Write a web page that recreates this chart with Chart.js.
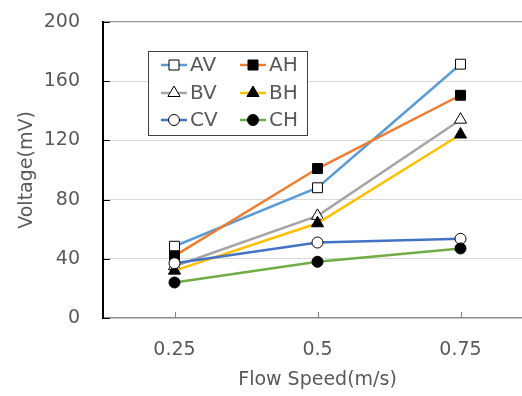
<!DOCTYPE html>
<html>
<head>
<meta charset="utf-8">
<script src="https://cdn.jsdelivr.net/npm/chart.js@4/dist/chart.umd.min.js"></script>
<style>
  html, body { margin: 0; padding: 0; overflow: hidden; background: #fff; }
  #wrap { width: 540px; height: 396px; position: relative; }
</style>
</head>
<body>
<div id="wrap"><canvas id="c" width="540" height="396"></canvas></div>
<script>
// ---- data ----
const categories = ['0.25', '0.5', '0.75'];
const seriesNames = ['AV', 'AH', 'BV', 'BH', 'CV', 'CH'];
const AV = [48.5, 88, 171.5];
const AH = [42, 101, 150.5];
const BV = [35, 69, 134];
const BH = [32, 64, 124];
const CV = [37, 51, 53.5];
const CH = [24, 38, 47];
const yTicks = [0, 40, 80, 120, 160, 200];

const values = [AV, AH, BV, BH, CV, CH];
const lineColors = ['#5B9BD5', '#ED7D31', '#A5A5A5', '#FFC000', '#4472C4', '#70AD47'];
const markerStyles = ['rect', 'rect', 'triangle', 'triangle', 'circle', 'circle'];
const markerFilled = [false, true, false, true, false, true];
const markerRadius = { rect: 7, triangle: 7, circle: 5.5 };

const FONT = 'DejaVu Sans';
const TXT = '#595959';

const datasets = seriesNames.map((name, i) => ({
  label: name,
  data: values[i],
  borderColor: lineColors[i],
  borderWidth: 2.5,
  pointStyle: markerStyles[i],
  pointRadius: markerRadius[markerStyles[i]],
  pointBorderWidth: 1,
  pointBorderColor: '#000',
  pointBackgroundColor: markerFilled[i] ? '#000' : '#fff',
  tension: 0,
  order: seriesNames.length - i
}));

function drawMarker(ctx, style, filled, x, y) {
  ctx.save();
  ctx.lineWidth = 1;
  ctx.strokeStyle = '#000';
  ctx.fillStyle = filled ? '#000' : '#fff';
  ctx.beginPath();
  if (style === 'rect') {
    const s = 5;
    ctx.rect(x - s, y - s, 2 * s, 2 * s);
  } else if (style === 'triangle') {
    const r = 7;
    ctx.moveTo(x, y - r);
    ctx.lineTo(x + r * Math.sin(Math.PI * 2 / 3), y - r * Math.cos(Math.PI * 2 / 3));
    ctx.lineTo(x - r * Math.sin(Math.PI * 2 / 3), y - r * Math.cos(Math.PI * 2 / 3));
    ctx.closePath();
  } else {
    ctx.arc(x, y, 5.5, 0, Math.PI * 2);
  }
  ctx.fill();
  ctx.stroke();
  ctx.restore();
}

const extras = {
  id: 'extras',
  afterDatasetsDraw(chart) {
    const ctx = chart.ctx;
    const y = chart.scales.y, x = chart.scales.x;
    const area = chart.chartArea;
    ctx.save();
    // y tick marks (inside)
    ctx.strokeStyle = '#000';
    ctx.lineWidth = 1;
    yTicks.forEach(v => {
      const py = Math.round(y.getPixelForValue(v)) + 0.5;
      ctx.beginPath();
      ctx.moveTo(area.left, py);
      ctx.lineTo(area.left + 7, py);
      ctx.stroke();
    });
    // x tick marks (inside)
    ctx.strokeStyle = '#7f7f7f';
    categories.forEach((c, i) => {
      const px = Math.round(x.getPixelForValue(i)) + 0.5;
      ctx.beginPath();
      ctx.moveTo(px, area.bottom);
      ctx.lineTo(px, area.bottom - 6);
      ctx.stroke();
    });
    // legend box
    const bx = 148.5, by = 51.5, bw = 159, bh = 84;
    ctx.fillStyle = '#fff';
    ctx.fillRect(bx, by, bw, bh);
    ctx.strokeStyle = '#404040';
    ctx.lineWidth = 1;
    ctx.strokeRect(bx, by, bw, bh);
    const colX = [161, 240];
    const rowY = [65, 93, 120];
    ctx.font = '20px "' + FONT + '"';
    ctx.textBaseline = 'middle';
    ctx.textAlign = 'left';
    chart.data.datasets.forEach((ds, i) => {
      const lx = colX[i % 2], ly = rowY[Math.floor(i / 2)];
      ctx.strokeStyle = ds.borderColor;
      ctx.lineWidth = 2.5;
      ctx.beginPath();
      ctx.moveTo(lx, ly);
      ctx.lineTo(lx + 26, ly);
      ctx.stroke();
      drawMarker(ctx, markerStyles[i], markerFilled[i], lx + 13, ly);
      ctx.fillStyle = TXT;
      ctx.fillText(ds.label, lx + 29, ly + 1);
    });
    ctx.restore();
  }
};

new Chart(document.getElementById('c'), {
  type: 'line',
  data: { labels: categories, datasets },
  options: {
    responsive: false,
    animation: false,
    layout: { padding: { top: 22, right: 8, left: 0, bottom: 0 } },
    plugins: { legend: { display: false }, tooltip: { enabled: false } },
    scales: {
      x: {
        offset: true,
        grid: { display: false, drawTicks: false },
        border: { display: true, color: '#8c8c8c', width: 1.3 },
        ticks: { color: TXT, font: { family: FONT, size: 19 }, padding: 21 },
        title: { display: true, text: 'Flow Speed(m/s)', color: TXT,
                 font: { family: FONT, size: 19 }, padding: { top: 0, bottom: 5 } },
        afterFit(s) { s.height = 78; s.paddingLeft = 0; s.paddingRight = 0; }
      },
      y: {
        min: 0, max: 200,
        afterBuildTicks(s) { s.ticks = yTicks.map(v => ({ value: v })); },
        grid: {
          drawTicks: false,
          color: ctx => (ctx.tick && ctx.tick.value === 200) ? '#969696' : '#d9d9d9',
          lineWidth: ctx => (ctx.tick && ctx.tick.value === 200) ? 1.3 : 1
        },
        border: { display: true, color: '#000', width: 2 },
        ticks: { color: TXT, font: { family: FONT, size: 19 }, padding: 23 },
        title: { display: true, text: 'Voltage(mV)', color: TXT,
                 font: { family: FONT, size: 19 }, padding: { top: 16, bottom: 0 } },
        afterFit(s) { s.width = 103; s.paddingTop = 0; s.paddingBottom = 0; }
      }
    }
  },
  plugins: [extras]
});
</script>
</body>
</html>
